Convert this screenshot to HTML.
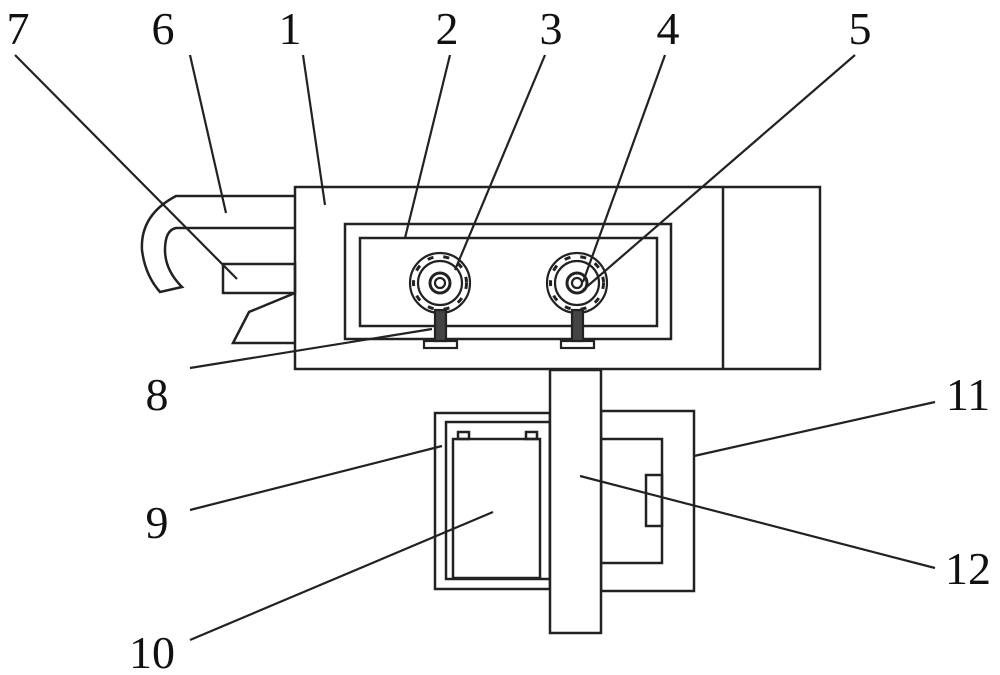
<!DOCTYPE html>
<html><head><style>
html,body{margin:0;padding:0;background:#fff;}
svg{display:block}
text{font-family:"Liberation Serif",serif;font-size:46px;fill:#111;}
</style></head><body>
<svg width="1000" height="675" viewBox="0 0 1000 675" xmlns="http://www.w3.org/2000/svg">
<g fill="none" stroke="#222" stroke-width="2.5">
<!-- main box -->
<rect x="295" y="187" width="525" height="182"/>
<line x1="723" y1="187" x2="723" y2="369"/>
<rect x="345" y="224" width="326" height="115"/>
<rect x="360" y="238" width="297" height="88"/>
<!-- left parts -->
<path d="M295,196 L176,196 Q140,215 142,250 Q145,275 160,292 L182,287 Q165,270 165,250 Q165,230 176,228 L295,228"/>
<rect x="223" y="264" width="72" height="29"/>
<path d="M295,293 L249,312 L233,343 L295,343"/>
<!-- bottom -->
<rect x="435" y="413" width="115" height="176"/>
<rect x="446" y="422" width="104" height="157"/>
<rect x="453" y="439" width="87" height="139"/>
<rect x="458" y="432" width="11" height="7"/>
<rect x="526" y="432" width="11" height="7"/>
<rect x="601" y="411" width="93" height="180"/>
<rect x="601" y="439" width="61" height="124"/>
<rect x="646" y="475" width="16" height="51"/>
<rect x="550" y="370" width="51" height="263" fill="#fff"/>
</g>
<!-- wheels -->
<g fill="none" stroke="#222" stroke-width="2.2">
<g id="w1">
<circle cx="440" cy="283" r="30"/>
<circle cx="440" cy="283" r="22"/>
<circle cx="440" cy="283" r="10" stroke-width="3"/>
<circle cx="440" cy="283" r="5"/>
<g stroke-width="3" stroke-dasharray="6 10"><circle cx="440" cy="283" r="26.5"/></g>
<rect x="435" y="310" width="11" height="31" fill="#444"/>
<rect x="424" y="341" width="33" height="7"/>
</g>
<g transform="translate(137,0)">
<circle cx="440" cy="283" r="30"/>
<circle cx="440" cy="283" r="22"/>
<circle cx="440" cy="283" r="10" stroke-width="3"/>
<circle cx="440" cy="283" r="5"/>
<g stroke-width="3" stroke-dasharray="6 10"><circle cx="440" cy="283" r="26.5"/></g>
<rect x="435" y="310" width="11" height="31" fill="#444"/>
<rect x="424" y="341" width="33" height="7"/>
</g>
</g>
<!-- leaders -->
<g stroke="#222" stroke-width="2.2">
<line x1="15" y1="55" x2="237" y2="279"/>
<line x1="190" y1="55" x2="226" y2="213"/>
<line x1="303" y1="55" x2="325" y2="205"/>
<line x1="450" y1="55" x2="405" y2="238"/>
<line x1="545" y1="55" x2="455" y2="270"/>
<line x1="665" y1="55" x2="583" y2="282"/>
<line x1="855" y1="55" x2="583" y2="290"/>
<line x1="190" y1="368" x2="432" y2="329"/>
<line x1="190" y1="510" x2="442" y2="446"/>
<line x1="190" y1="640" x2="493" y2="512"/>
<line x1="935" y1="402" x2="694" y2="456"/>
<line x1="935" y1="568" x2="580" y2="476"/>
</g>
<g text-anchor="middle">
<text x="18" y="44">7</text>
<text x="163" y="44">6</text>
<text x="290" y="44">1</text>
<text x="447" y="44">2</text>
<text x="551" y="44">3</text>
<text x="668" y="44">4</text>
<text x="860" y="44">5</text>
<text x="157" y="410">8</text>
<text x="157" y="538">9</text>
<text x="152" y="668">10</text>
<text x="968" y="410">11</text>
<text x="968" y="584">12</text>
</g>
</svg>
</body></html>
